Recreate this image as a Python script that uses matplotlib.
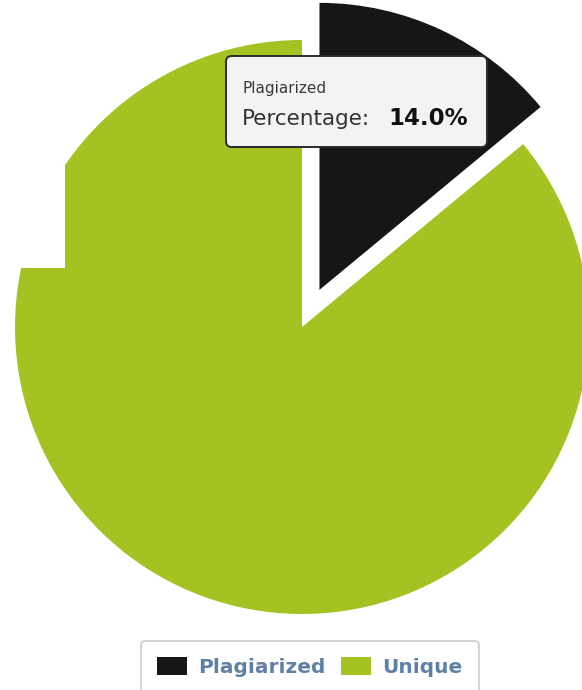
import matplotlib
matplotlib.use('Agg')
import matplotlib.pyplot as plt
from matplotlib.patches import FancyBboxPatch, Rectangle

labels = ['Plagiarized', 'Unique']
values = [14.0, 86.0]
colors = ['#161616', '#a4c322']
explode = [0.143, 0.0]

W, H = 582, 690
fig = plt.figure(figsize=(W / 100, H / 100), dpi=100)
ax = fig.add_axes([0, 0, 1, 1])
CX, CY, R = 302, 327, 287


def d(px, py):
    return ((px - CX) / R, (CY - py) / R)


wedges, _ = ax.pie(values, colors=colors, explode=explode, startangle=90,
                   counterclock=False, radius=1, center=(0, 0),
                   wedgeprops=dict(linewidth=0))
ax.set_xlim(-CX / R, (W - CX) / R)
ax.set_ylim((CY - H) / R, CY / R)
ax.set_aspect('equal')
ax.axis('off')

# white notch at the top-left (as in the reference)
x0, y0 = d(-5, 268)
ax.add_patch(Rectangle((x0, y0), 70 / R, 300 / R, facecolor='white',
                       edgecolor='none', zorder=4))

# tooltip
bx0, by0 = d(226, 147)
ax.add_patch(FancyBboxPatch((bx0, by0), (487 - 226) / R, (147 - 56) / R,
                            boxstyle='round,pad=0,rounding_size=0.02',
                            facecolor='#f3f3f3', edgecolor='#2b2b2b',
                            linewidth=1.4, zorder=5))
ax.text(*d(243, 93), labels[0], fontsize=11, color='#3a3a3a',
        va='baseline', ha='left', zorder=6)
ax.text(*d(242, 125), 'Percentage:', fontsize=15.5, color='#333333',
        va='baseline', ha='left', zorder=6)
ax.text(*d(388, 125), f'{values[0]:.1f}%', fontsize=16.5, color='#111111',
        fontweight='bold', va='baseline', ha='left', zorder=6)

leg = ax.legend(wedges, labels, loc='upper left',
                bbox_to_anchor=(141 / W, 1 - 641 / H),
                bbox_transform=fig.transFigure, ncol=2, frameon=True,
                fancybox=True, edgecolor='#bdbdbd',
                prop={'weight': 'bold', 'size': 14.5}, labelcolor='#5f80a5',
                handlelength=1.5, handleheight=1.0, handletextpad=0.55,
                columnspacing=0.75, borderaxespad=0, borderpad=0.8)
leg.get_frame().set_linewidth(1.2)

fig.savefig('out.png', dpi=100, facecolor='white')
